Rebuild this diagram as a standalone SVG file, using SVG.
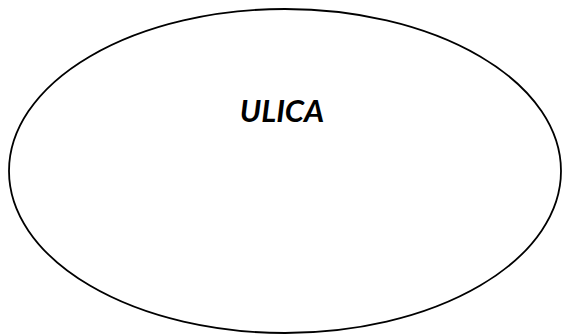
<svg xmlns="http://www.w3.org/2000/svg" width="562" height="335" viewBox="0 0 562 335">
<style>
.shape{fill:#fff;stroke:#000;stroke-width:1.8}
.lbl{font-family:Lato,"Liberation Sans",Arial,sans-serif;font-weight:bold;font-style:italic;font-size:31px;fill:#000}
</style>
<rect width="562" height="335" fill="#fff"/>
<g id="ulica">
<ellipse class="shape" cx="285" cy="171" rx="276" ry="162"/>
<text class="lbl" x="282" y="122" text-anchor="middle">ULICA</text>
</g>
<g id="connectors"/>
</svg>
